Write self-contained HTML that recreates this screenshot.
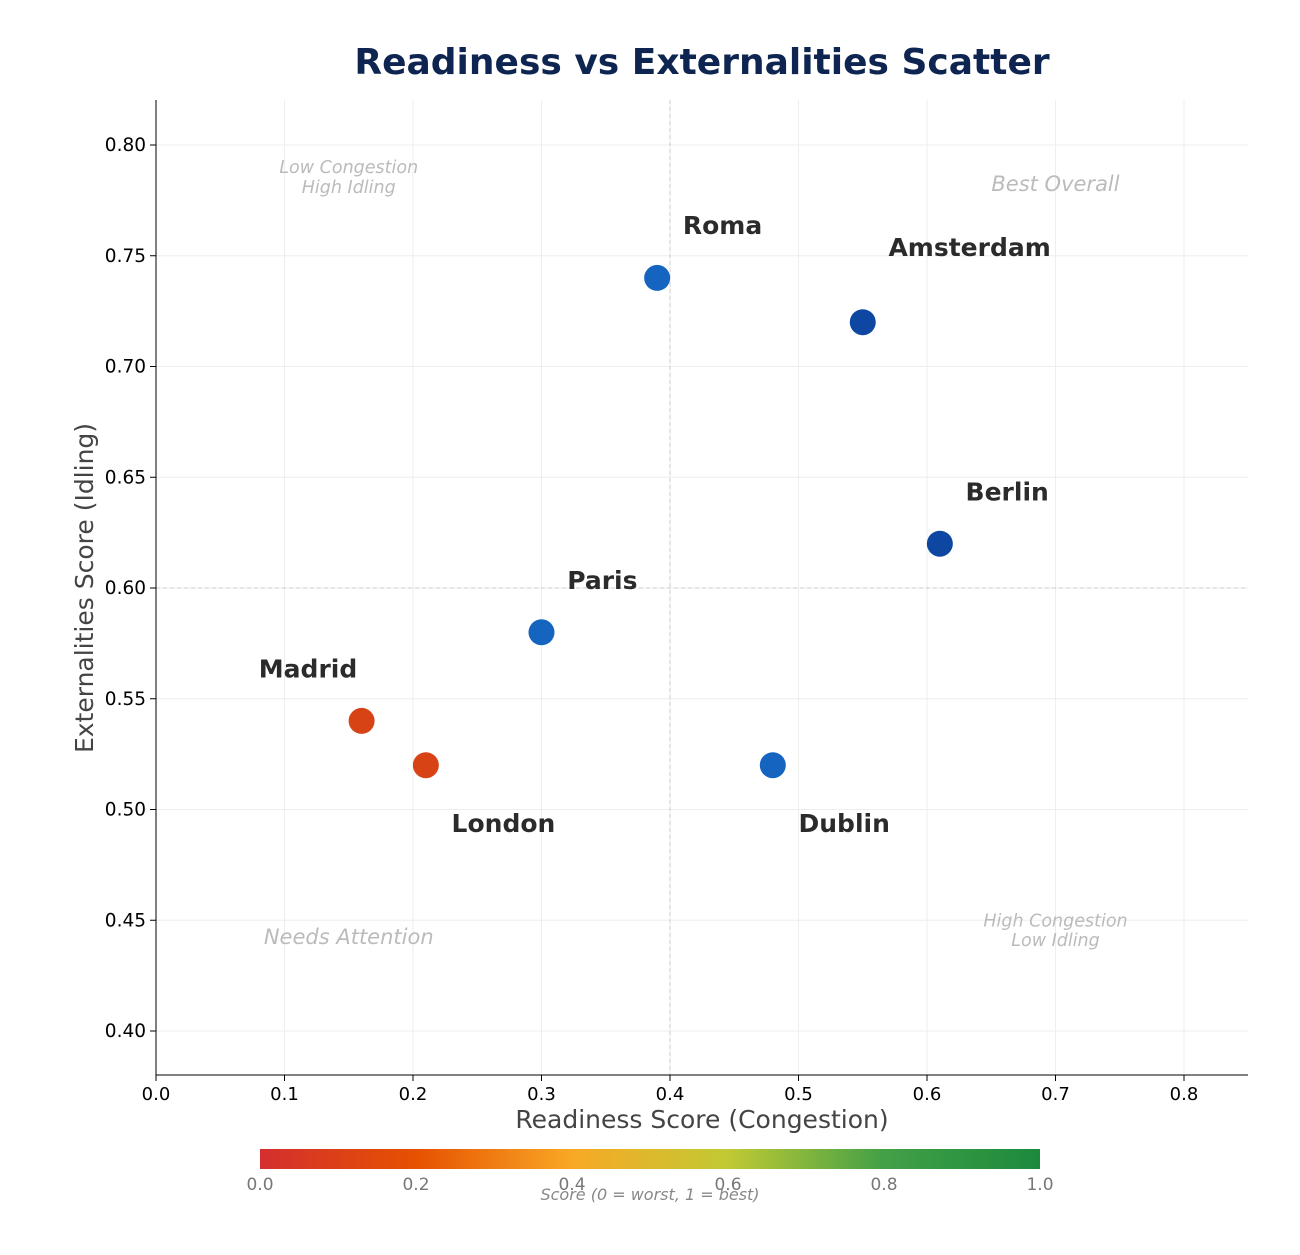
<!DOCTYPE html>
<html><head><meta charset="utf-8"><style>
body{margin:0;background:#fff;font-family:"Liberation Sans","DejaVu Sans",sans-serif;}
svg text{font-family:"DejaVu Sans","Liberation Sans",sans-serif;}
</style></head><body>
<svg id="chart" width="1300" height="1250" xmlns="http://www.w3.org/2000/svg">
<defs><linearGradient id="cb" x1="0" x2="1" y1="0" y2="0">
<stop offset="0" stop-color="#d32f2f"/><stop offset="0.2" stop-color="#e65100"/><stop offset="0.4" stop-color="#f9a825"/><stop offset="0.6" stop-color="#c0ca33"/><stop offset="0.8" stop-color="#43a047"/><stop offset="1" stop-color="#1b8a3c"/></linearGradient></defs>
<text x="702" y="74" text-anchor="middle" font-size="36" font-weight="bold" fill="#0d2550">Readiness vs Externalities Scatter</text>
<g id="grid"></g><g id="axes"></g><g id="pts"></g>
<text x="702" y="1128" text-anchor="middle" font-size="25" fill="#444">Readiness Score (Congestion)</text>
<text transform="translate(93,588) rotate(-90)" text-anchor="middle" font-size="25" fill="#444">Externalities Score (Idling)</text>
<rect x="260" y="1149" width="780" height="20" fill="url(#cb)"/>
<g id="cbticks"></g>
<text x="650" y="1200" text-anchor="middle" font-size="16" font-style="italic" fill="#888">Score (0 = worst, 1 = best)</text>
</svg>
<script>
const names=["Roma","Amsterdam","Berlin","Paris","Madrid","London","Dublin"];
const readiness=[0.39,0.55,0.61,0.30,0.16,0.21,0.48];
const externalities=[0.74,0.72,0.62,0.58,0.54,0.52,0.52];
const colors=["#1565c0","#0d47a1","#0d47a1","#1565c0","#d84315","#d84315","#1565c0"];
const xTicks=[0,0.1,0.2,0.3,0.4,0.5,0.6,0.7,0.8];
const yTicks=[0.40,0.45,0.50,0.55,0.60,0.65,0.70,0.75,0.80];
const cbTicks=[0,0.2,0.4,0.6,0.8,1.0];
const NS="http://www.w3.org/2000/svg";
const X=v=>156+v*1285, Y=v=>145+(0.80-v)*2215;
function mk(p,t,a){const e=document.createElementNS(NS,t);for(const k in a)e.setAttribute(k,a[k]);document.getElementById(p).appendChild(e);return e;}
xTicks.forEach(t=>{
 const g=mk('grid','line',{x1:X(t),x2:X(t),y1:100,y2:1075,stroke:'#eee','stroke-width':1});
 
 
 mk('axes','line',{x1:X(t),x2:X(t),y1:1075,y2:1081,stroke:'#000'});
 const l=mk('axes','text',{x:X(t),y:1100,'text-anchor':'middle','font-size':18,fill:'#000'});l.textContent=t.toFixed(1);
 
 
});
yTicks.forEach(t=>{
 const g=mk('grid','line',{x1:156,x2:1248,y1:Y(t),y2:Y(t),stroke:'#eee','stroke-width':1});
 
 
 mk('axes','line',{x1:150,x2:156,y1:Y(t),y2:Y(t),stroke:'#000'});
 const l=mk('axes','text',{x:146,y:Y(t)+6,'text-anchor':'end','font-size':18.5,fill:'#000'});l.textContent=t.toFixed(2);
 
 
});
mk('grid','line',{x1:X(0.4),x2:X(0.4),y1:100,y2:1075,stroke:'#ccc','stroke-dasharray':'4,3'});
mk('grid','line',{x1:156,x2:1248,y1:Y(0.6),y2:Y(0.6),stroke:'#ccc','stroke-dasharray':'4,3'});
mk('axes','line',{x1:156,x2:156,y1:100,y2:1075,stroke:'#000'});
mk('axes','line',{x1:156,x2:1248,y1:1075,y2:1075,stroke:'#000'});
[[0.15,0.79,"Low Congestion"],[0.15,0.781,"High Idling"],[0.70,0.782,"Best Overall"],[0.15,0.442,"Needs Attention"],[0.70,0.45,"High Congestion"],[0.70,0.441,"Low Idling"]].forEach(q=>{
 const big=q[2]=="Best Overall"||q[2]=="Needs Attention";
 const t=mk('axes','text',{x:X(q[0]),y:Y(q[1])+6,'text-anchor':'middle','font-size':big?21:17.5,'font-style':'italic',fill:'#bbb'});t.textContent=q[2];
 
 
});
names.forEach((n,i)=>{
 const c=mk('pts','circle',{cx:X(readiness[i]),cy:Y(externalities[i]),r:13,fill:colors[i]});
 
 
 let dx=0.02,dy=0.02;
 if(n=="Roma")dy=0.0203;
 if(n=="Amsterdam")dy=0.0304;
 if(n=="Madrid"){dx=-0.08;}
 if(n=="London"||n=="Dublin"){dy=-0.0296;}
 const t=mk('pts','text',{x:X(readiness[i]+dx),y:Y(externalities[i]+dy)+1,'font-size':25,'font-weight':'bold',fill:'#2b2b2b'});t.textContent=n;
 
 
});
cbTicks.forEach(t=>{
 const l=mk('cbticks','text',{x:260+t*780,y:1190,'text-anchor':'middle','font-size':17,fill:'#777'});l.textContent=t.toFixed(1);
 
 
});
</script>
</body></html>
